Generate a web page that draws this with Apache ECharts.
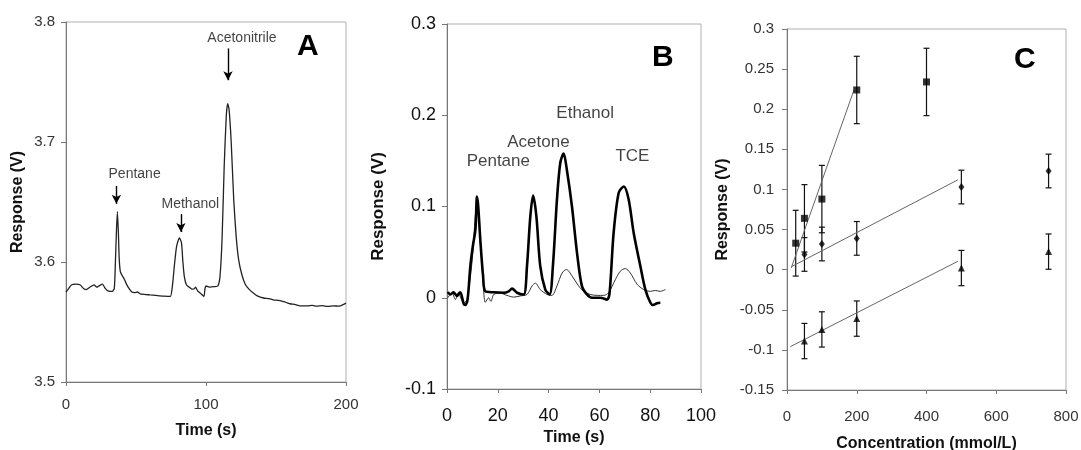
<!DOCTYPE html>
<html><head><meta charset="utf-8">
<script src="https://cdn.jsdelivr.net/npm/echarts@6/dist/echarts.min.js"></script>
<style>html,body{margin:0;padding:0;background:#fff}#c{width:1081px;height:450px}</style>
</head><body><div id="c"></div>
<script>
// ---------- Panel A data ----------
const aTime = [0,2,4,7,10,12.5,14.5,17,20,22,23.5,26,28,30,33,34.5,35.3,36,36.7,37.4,38,38.8,40,41.5,43,45,47,49,51,53,56,60,64,67,70,74.5,76,77.5,79,81,82.5,83.5,84.5,86,88,90,91.5,92.5,94,96,98.5,99.3,100,103,106,108.5,110,111.5,113,114.5,115.5,116.5,118,119.8,121.5,123.3,125.5,128,131,134,137,141,145,148,152,155.5,158,160,164,167,172,176,179,183,187,191,195,198,200];
const aResp = [3.575,3.578,3.581,3.5815,3.581,3.578,3.577,3.579,3.581,3.579,3.580,3.5815,3.578,3.576,3.5755,3.578,3.600,3.625,3.642,3.625,3.603,3.592,3.589,3.586,3.582,3.578,3.575,3.5745,3.575,3.5735,3.573,3.5726,3.5722,3.5718,3.5715,3.5713,3.580,3.598,3.613,3.620,3.616,3.600,3.588,3.581,3.579,3.5774,3.5775,3.579,3.576,3.574,3.5713,3.578,3.580,3.579,3.5795,3.580,3.588,3.620,3.680,3.722,3.732,3.727,3.700,3.652,3.622,3.602,3.590,3.5815,3.577,3.574,3.5715,3.570,3.5695,3.5685,3.568,3.567,3.566,3.5652,3.5645,3.5635,3.5635,3.5638,3.5632,3.5636,3.563,3.5635,3.5632,3.5645,3.5657];
const aLabels = ['Pentane','Methanol','Acetonitrile'];
const aLabelX = [49, 88.8, 125.7];
const aLabelY = [3.673, 3.648, 3.7867];
const aArrowX = [36, 82.1, 115.7];
const aArrowTop = [3.6634, 3.640, 3.778];
const aArrowBot = [3.6485, 3.625, 3.7515];

// ---------- Panel B data ----------
const bThickT = [0.3,1.3,2.6,3.9,5.2,6.6,7.2,8.1,9.2,10.2,11.2,11.8,12.3,13.1,14.2,15.1,18.4,22.3,24.3,25.6,27.6,30.2,31.5,32.8,33.9,35.2,36.7,38.7,40.4,41.7,43.3,44.6,45.9,47.2,49.2,51.2,53.1,55.1,57.1,60.4,63.0,64.0,65.6,67.6,69.6,71.5,73.5,76.1,78.1,80.1,81.1,82.7,84.0];
const bThickV = [0.0062,0.0036,0.006,0.002,0.006,-0.007,-0.008,-0.002,0.035,0.057,0.075,0.111,0.100,0.064,0.024,0.007,0.006,0.0055,0.007,0.010,0.0055,0.0036,0.035,0.089,0.112,0.089,0.035,0.009,0.0036,0.035,0.108,0.148,0.158,0.140,0.100,0.049,0.013,0.0036,0.0,0.0,-0.002,0.005,0.071,0.115,0.122,0.108,0.071,0.035,0.009,-0.0055,-0.008,-0.006,-0.0055];
const bThinT = [0.3,2.0,3.3,4.5,5.5,6.6,7.9,9.8,11.8,13.1,14.4,15.1,16.4,17.3,18.4,21,23.6,26.2,28.9,31.5,33.5,34.8,36.7,39.4,41.3,43.3,45.3,47,49.2,51.8,53.8,56.4,59.1,61.7,63.6,66.3,68.2,70.2,72.2,74.8,77.4,80.1,82,84,86];
const bThinV = [0.0,0.0055,-0.002,0.006,-0.001,-0.0055,-0.002,0.038,0.104,0.064,0.009,-0.005,0.0,-0.004,0.0036,0.005,0.0026,0.0007,0.002,0.0036,0.013,0.016,0.009,0.0036,0.0026,0.013,0.027,0.031,0.024,0.013,0.007,0.0036,0.0026,0.0026,0.0055,0.020,0.029,0.032,0.027,0.015,0.009,0.007,0.008,0.007,0.009];
const bLabels = ['Pentane','Acetone','Ethanol','TCE'];
const bLabelX = [20.2, 36, 54.4, 73];
const bLabelY = [0.149, 0.170, 0.2025, 0.1555];

// ---------- Panel C data ----------
const sqConc = [25,50,100,200,400];
const sqResp = [0.033,0.064,0.088,0.224,0.234];
const sqErr = [0.041,0.042,0.042,0.042,0.042];
const diConc = [50,100,200,500,750];
const diResp = [0.019,0.032,0.039,0.103,0.123];
const diErr = [0.021,0.021,0.021,0.021,0.021];
const trConc = [50,100,200,500,750];
const trResp = [-0.089,-0.0745,-0.061,0.002,0.0225];
const trErr = [0.022,0.022,0.022,0.022,0.022];
const sqFitX = [12,192], sqFitY = [0.002,0.224];
const diFitX = [14,490], diFitY = [0.004,0.112];
const trFitX = [9.5,490], trFitY = [-0.096,0.0104];

const FONT = '"Liberation Sans", Arial, sans-serif';
const zip = (a,b) => a.map((v,i)=>[v,b[i]]);
const errData = (x,y,e) => x.map((v,i)=>[v, y[i]-e[i], y[i]+e[i]]);

function renderErr(params, api){
  const x = api.value(0), p1 = api.coord([x, api.value(1)]), p2 = api.coord([x, api.value(2)]);
  const w = 3, st = {stroke:'#111', lineWidth:1.2};
  return {type:'group', children:[
    {type:'line', shape:{x1:p1[0],y1:p1[1],x2:p2[0],y2:p2[1]}, style:st},
    {type:'line', shape:{x1:p1[0]-w,y1:p1[1],x2:p1[0]+w,y2:p1[1]}, style:st},
    {type:'line', shape:{x1:p2[0]-w,y1:p2[1],x2:p2[0]+w,y2:p2[1]}, style:st}
  ]};
}

function mkX(gi, min, max, interval, name, nameGap, fs, margin, col){
  return {type:'value', gridIndex:gi, min, max, interval, name, nameLocation:'middle', nameGap,
    nameTextStyle:{fontFamily:FONT, fontSize:16, fontWeight:'bold', color:'#111'},
    axisLine:{show:true, onZero:false, lineStyle:{color:'#777', width:1}},
    axisTick:{show:true, inside:false, length:4, lineStyle:{color:'#777'}},
    axisLabel:{fontFamily:FONT, fontSize:fs, color:col||'#333', margin},
    splitLine:{show:false}};
}
function mkY(gi, min, max, interval, name, nameGap, fs, margin, nfs, col){
  return {type:'value', gridIndex:gi, min, max, interval, name, nameLocation:'middle', nameGap,
    nameTextStyle:{fontFamily:FONT, fontSize:nfs||16, fontWeight:'bold', color:'#111'},
    axisLine:{show:true, onZero:false, lineStyle:{color:'#777', width:1}},
    axisTick:{show:true, inside:false, length:5, lineStyle:{color:'#777'}},
    axisLabel:{fontFamily:FONT, fontSize:fs, color:col||'#333', margin},
    splitLine:{show:false}};
}

const textLabelSeries = (xi, names, xs, ys, fs) => ({
  type:'scatter', xAxisIndex:xi, yAxisIndex:xi, symbolSize:0, silent:true,
  data: names.map((n,i)=>({name:n, value:[xs[i], ys[i]]})),
  label:{show:true, position:'inside', formatter:p=>p.name, fontFamily:FONT, fontSize:fs, color:'#111'}
});

const chart = echarts.init(document.getElementById('c'), null, {renderer:'canvas'});
chart.setOption({
  animation:false,
  backgroundColor:'#fff',
  grid:[
    {left:66, top:22, width:280, height:360, show:true, borderColor:'#b0b0b0', borderWidth:1, outerBoundsMode:'none', containLabel:false},
    {left:447, top:24, width:254, height:365, show:true, borderColor:'#b0b0b0', borderWidth:1, outerBoundsMode:'none', containLabel:false},
    {left:787, top:29, width:279, height:361, show:true, borderColor:'#b0b0b0', borderWidth:1, outerBoundsMode:'none', containLabel:false}
  ],
  xAxis:[
    mkX(0, 0, 200, 100, 'Time (s)', 41, 15, 15),
    mkX(1, 0, 100, 20, 'Time (s)', 41, 18, 18, '#111'),
    mkX(2, 0, 800, 200, 'Concentration (mmol/L)', 46, 15, 19)
  ],
  yAxis:[
    mkY(0, 3.5, 3.8, 0.1, 'Response (V)', 40, 15, 11),
    mkY(1, -0.1, 0.3, 0.1, 'Response (V)', 60, 18, 11, 17, '#111'),
    mkY(2, -0.15, 0.3, 0.05, 'Response (V)', 56, 15, 13)
  ],
  graphic:[
    {type:'text', left:297, top:32, style:{text:'A', font:'bold 30px '+FONT, fill:'#000'}},
    {type:'text', left:652, top:43, style:{text:'B', font:'bold 30px '+FONT, fill:'#000'}},
    {type:'text', left:1014, top:45, style:{text:'C', font:'bold 30px '+FONT, fill:'#000'}}
  ],
  series:[
    {type:'line', xAxisIndex:0, yAxisIndex:0, data:zip(aTime,aResp), showSymbol:false, smooth:0.2,
      lineStyle:{color:'#222', width:1.3},
      markLine:{silent:true, symbol:['none','arrow'], symbolSize:[7,9], label:{show:false},
        lineStyle:{color:'#000', width:1.4, type:'solid'},
        data: aArrowX.map((x,i)=>[{coord:[x,aArrowTop[i]]},{coord:[x,aArrowBot[i]]}])}
    },
    textLabelSeries(0, aLabels, aLabelX, aLabelY, 14),
    {type:'line', xAxisIndex:1, yAxisIndex:1, data:zip(bThinT,bThinV), showSymbol:false, smooth:0.3,
      lineStyle:{color:'#333', width:1}},
    {type:'line', xAxisIndex:1, yAxisIndex:1, data:zip(bThickT,bThickV), showSymbol:false, smooth:0.3,
      lineStyle:{color:'#000', width:2.6}},
    textLabelSeries(1, bLabels, bLabelX, bLabelY, 17),
    {type:'line', xAxisIndex:2, yAxisIndex:2, data:zip(sqFitX,sqFitY), showSymbol:false, lineStyle:{color:'#666', width:1}},
    {type:'line', xAxisIndex:2, yAxisIndex:2, data:zip(diFitX,diFitY), showSymbol:false, lineStyle:{color:'#666', width:1}},
    {type:'line', xAxisIndex:2, yAxisIndex:2, data:zip(trFitX,trFitY), showSymbol:false, lineStyle:{color:'#666', width:1}},
    {type:'custom', xAxisIndex:2, yAxisIndex:2, renderItem:renderErr, data:errData(sqConc,sqResp,sqErr), encode:{x:0,y:[1,2]}},
    {type:'custom', xAxisIndex:2, yAxisIndex:2, renderItem:renderErr, data:errData(diConc,diResp,diErr), encode:{x:0,y:[1,2]}},
    {type:'custom', xAxisIndex:2, yAxisIndex:2, renderItem:renderErr, data:errData(trConc,trResp,trErr), encode:{x:0,y:[1,2]}},
    {type:'scatter', xAxisIndex:2, yAxisIndex:2, data:zip(sqConc,sqResp), symbol:'rect', symbolSize:7, itemStyle:{color:'#000'}, z:5},
    {type:'scatter', xAxisIndex:2, yAxisIndex:2, data:zip(diConc,diResp), symbol:'diamond', symbolSize:[6,8], itemStyle:{color:'#000'}, z:5},
    {type:'scatter', xAxisIndex:2, yAxisIndex:2, data:zip(trConc,trResp), symbol:'triangle', symbolSize:7, itemStyle:{color:'#000'}, z:5}
  ]
});
</script></body></html>
